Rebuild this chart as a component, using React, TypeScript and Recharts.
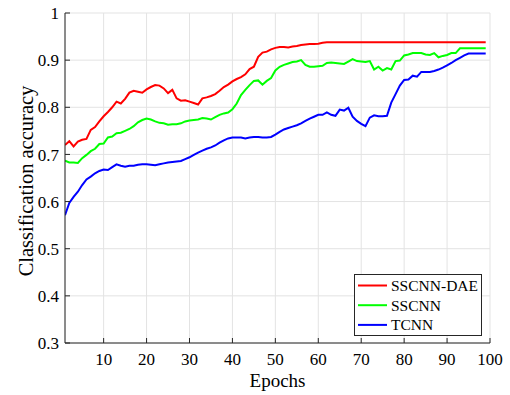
import { CartesianGrid, Label, Legend, Line, LineChart, XAxis, YAxis } from 'recharts';

const epochs = Array.from({ length: 99 }, (_, i) => i + 1);

const sscnnDae = [
  0.72, 0.728, 0.717, 0.727, 0.731, 0.733, 0.752, 0.758, 0.77, 0.781,
  0.79, 0.8, 0.812, 0.808, 0.818, 0.831, 0.835, 0.833, 0.831, 0.838,
  0.843, 0.847, 0.846, 0.84, 0.83, 0.837, 0.819, 0.814, 0.815, 0.812,
  0.809, 0.806, 0.819, 0.821, 0.824, 0.828, 0.835, 0.843, 0.848, 0.855,
  0.86, 0.864, 0.87, 0.881, 0.886, 0.907, 0.916, 0.918, 0.923, 0.926,
  0.928, 0.928, 0.927, 0.929, 0.93, 0.932, 0.933, 0.934, 0.934, 0.935,
  0.937, 0.938, 0.938, 0.938, 0.938, 0.938, 0.938, 0.938, 0.938, 0.938,
  0.938, 0.938, 0.938, 0.938, 0.938, 0.938, 0.938, 0.938, 0.938, 0.938,
  0.938, 0.938, 0.938, 0.938, 0.938, 0.938, 0.938, 0.938, 0.938, 0.938,
  0.938, 0.938, 0.938, 0.938, 0.938, 0.938, 0.938, 0.938, 0.938
];

const sscnn = [
  0.687, 0.683, 0.683, 0.682, 0.692, 0.699, 0.707, 0.712, 0.722, 0.723,
  0.736, 0.738, 0.745, 0.746, 0.75, 0.754, 0.76, 0.768, 0.773, 0.776,
  0.774, 0.77, 0.767, 0.766, 0.763, 0.764, 0.764, 0.766, 0.77, 0.772,
  0.773, 0.774, 0.777, 0.776, 0.774, 0.779, 0.784, 0.787, 0.789, 0.796,
  0.808, 0.826, 0.837, 0.847, 0.856, 0.857, 0.848, 0.856, 0.862, 0.878,
  0.886, 0.89, 0.893, 0.896, 0.897, 0.9, 0.89, 0.886, 0.886, 0.887,
  0.888, 0.894, 0.895, 0.894, 0.893, 0.892, 0.897, 0.902, 0.898, 0.897,
  0.896, 0.898, 0.88, 0.886, 0.878, 0.883, 0.88, 0.898, 0.899, 0.91,
  0.912, 0.915, 0.915, 0.915, 0.912, 0.911, 0.915, 0.906, 0.909, 0.911,
  0.915, 0.915, 0.925, 0.925, 0.925, 0.925, 0.925, 0.925, 0.925
];

const tcnn = [
  0.571, 0.597, 0.61, 0.621, 0.635, 0.647, 0.653, 0.66, 0.665, 0.668,
  0.667, 0.673, 0.679, 0.676, 0.674, 0.676, 0.676, 0.678, 0.679, 0.679,
  0.678, 0.677, 0.679, 0.681, 0.683, 0.684, 0.685, 0.686, 0.69, 0.694,
  0.699, 0.704, 0.708, 0.712, 0.715, 0.719, 0.725, 0.73, 0.734, 0.736,
  0.736, 0.736, 0.734, 0.736, 0.737, 0.737, 0.736, 0.736, 0.737, 0.742,
  0.748, 0.753, 0.756, 0.759, 0.762, 0.766, 0.771, 0.776, 0.78, 0.784,
  0.784, 0.789, 0.784, 0.782, 0.795, 0.793, 0.799, 0.78, 0.771, 0.765,
  0.76, 0.778, 0.783, 0.781, 0.781, 0.782, 0.81, 0.828, 0.846, 0.858,
  0.859, 0.867, 0.865, 0.875, 0.875, 0.875, 0.877, 0.88, 0.884, 0.889,
  0.894, 0.9, 0.905, 0.91, 0.914, 0.914, 0.914, 0.914, 0.914
];

const xTicks = [10, 20, 30, 40, 50, 60, 70, 80, 90, 100];
const yTicks = [0.3, 0.4, 0.5, 0.6, 0.7, 0.8, 0.9, 1];

const series = [
  { key: 'dae', name: 'SSCNN-DAE', color: '#ff0000', values: sscnnDae },
  { key: 'sscnn', name: 'SSCNN', color: '#00ff00', values: sscnn },
  { key: 'tcnn', name: 'TCNN', color: '#0000ff', values: tcnn }
];

const data = epochs.map((e, i) => ({
  epoch: e,
  dae: sscnnDae[i],
  sscnn: sscnn[i],
  tcnn: tcnn[i]
}));

const FONT = 'Liberation Serif, serif';
const AXIS = '#262626';

// explicit <text> everywhere so the serif face is really applied
const XTick = ({ x, y, payload }: any) => (
  <text x={x} y={y} dy="0.71em" textAnchor="middle" fontFamily={FONT} fontSize={17} fill="#000">
    {payload.value}
  </text>
);

const YTick = ({ x, y, payload }: any) => (
  <text x={x} y={y} dy="0.36em" textAnchor="end" fontFamily={FONT} fontSize={17} fill="#000">
    {payload.value === 1 ? '1' : Number(payload.value).toFixed(1)}
  </text>
);

const LegendBox = () => (
  <svg width={128} height={62} style={{ display: 'block' }}>
    <rect x={0.5} y={0.5} width={127} height={61} fill="#fff" stroke={AXIS} />
    {series.map((s, i) => (
      <g key={s.key}>
        <line x1={4} y1={11.5 + i * 19.7} x2={33} y2={11.5 + i * 19.7} stroke={s.color} strokeWidth={2} />
        <text x={37} y={11.5 + i * 19.7} dy="0.36em" fontFamily={FONT} fontSize={15.5} fill="#000">
          {s.name}
        </text>
      </g>
    ))}
  </svg>
);

const YTitle = ({ viewBox }: any) => {
  const cy = viewBox.y + viewBox.height / 2 + 3;
  return (
    <text
      x={33}
      y={cy}
      transform={`rotate(-90, 33, ${cy})`}
      textAnchor="middle"
      fontFamily={FONT}
      fontSize={20.5}
      fill="#000"
    >
      Classification accuracy
    </text>
  );
};

const XTitle = ({ viewBox }: any) => (
  <text
    x={viewBox.x + viewBox.width / 2}
    y={387}
    textAnchor="middle"
    fontFamily={FONT}
    fontSize={19}
    fill="#000"
  >
    Epochs
  </text>
);

export default function App() {
  return (
    <div style={{ position: 'absolute', left: 0, top: 0, background: '#fff' }}>
      <LineChart
        width={510}
        height={395}
        data={data}
        margin={{ top: 13, right: 20, bottom: 7, left: 15 }}
      >
        <CartesianGrid stroke="#e3e3e3" strokeWidth={1} />
        <XAxis
          dataKey="epoch"
          type="number"
          domain={[1, 100]}
          ticks={xTicks}
          allowDataOverflow
          height={45}
          tick={<XTick />}
          tickSize={-5}
          tickMargin={15}
          stroke={AXIS}
          interval={0}
        >
          <Label content={<XTitle />} />
        </XAxis>
        <XAxis
          xAxisId="top"
          orientation="top"
          dataKey="epoch"
          type="number"
          domain={[1, 100]}
          ticks={xTicks}
          height={0}
          tick={false}
          tickSize={-5}
          stroke={AXIS}
          interval={0}
        />
        <YAxis
          type="number"
          domain={[0.3, 1]}
          ticks={yTicks}
          width={50}
          tick={<YTick />}
          tickSize={-5}
          tickMargin={11}
          stroke={AXIS}
          interval={0}
        >
          <Label content={<YTitle />} />
        </YAxis>
        <YAxis
          yAxisId="right"
          orientation="right"
          type="number"
          domain={[0.3, 1]}
          ticks={yTicks}
          width={0}
          tick={false}
          tickSize={-5}
          stroke={AXIS}
          interval={0}
        />
        <Legend
          layout="vertical"
          align="center"
          verticalAlign="middle"
          content={<LegendBox />}
          wrapperStyle={{ position: 'absolute', left: 354, top: 274, width: 128 }}
        />
        {series.map((s) => (
          <Line
            key={s.key}
            dataKey={s.key}
            name={s.name}
            stroke={s.color}
            strokeWidth={2}
            dot={false}
            activeDot={false}
            type="linear"
            isAnimationActive={false}
          />
        ))}
      </LineChart>
    </div>
  );
}
